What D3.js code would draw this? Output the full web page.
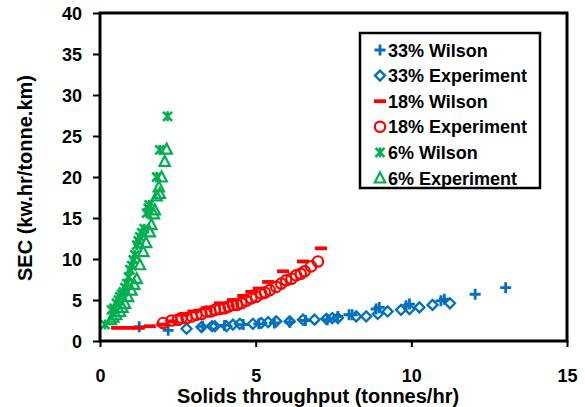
<!DOCTYPE html>
<html>
<head>
<meta charset="utf-8">
<script src="https://cdn.jsdelivr.net/npm/d3@7"></script>
<style>
  html, body { margin: 0; padding: 0; background: #fff; }
  svg { display: block; font-family: "Liberation Sans", Arial, sans-serif; }
</style>
</head>
<body>
<svg id="chart" width="585" height="407"></svg>
<script>
// Specific energy consumption vs. solids throughput, Wilson model vs. experiment
const xTicks = [0, 5, 10, 15];
const yTicks = [0, 5, 10, 15, 20, 25, 30, 35, 40];

// 33% concentration
const wilson33X = [1.26, 2.19, 3.3, 4.0, 4.6, 5.1, 5.6, 6.1, 6.6, 7.3, 7.64, 8.0, 8.1, 8.87, 8.97, 9.83, 9.94, 10.95, 11.06, 12.05, 13.03];
const wilson33Y = [1.75, 1.3, 1.8, 1.9, 2.0, 2.1, 2.2, 2.3, 2.5, 2.6, 3.0, 3.2, 3.2, 3.9, 4.1, 4.3, 4.5, 4.9, 5.1, 5.7, 6.5];
const exp33X = [2.78, 3.26, 3.6, 3.69, 4.06, 4.27, 4.49, 4.91, 5.18, 5.4, 5.66, 6.09, 6.52, 6.89, 7.27, 7.46, 7.64, 8.23, 8.55, 8.92, 9.24, 9.67, 9.94, 10.26, 10.68, 11.24];
const exp33Y = [1.5, 1.7, 1.8, 1.8, 1.8, 2.0, 2.1, 2.1, 2.2, 2.3, 2.4, 2.4, 2.6, 2.6, 2.7, 2.8, 2.8, 3.0, 3.0, 3.3, 3.6, 3.8, 3.9, 4.1, 4.4, 4.6];

// 18% concentration
const wilson18X = [0.55, 0.9, 1.25, 1.6, 2.0, 2.3, 2.67, 3.0, 3.42, 3.85, 4.27, 4.6, 4.86, 5.1, 5.4, 5.88, 6.52, 7.1];
const wilson18Y = [1.6, 1.6, 1.6, 1.8, 2.0, 2.4, 3.2, 3.6, 4.0, 4.6, 5.0, 5.5, 6.0, 6.4, 7.2, 8.5, 9.7, 11.3];
const exp18X = [2.03, 2.3, 2.5, 2.62, 2.78, 2.95, 3.1, 3.26, 3.42, 3.55, 3.69, 3.85, 4.0, 4.13, 4.27, 4.4, 4.54, 4.7, 4.86, 5.02, 5.18, 5.3, 5.45, 5.66, 5.82, 5.98, 6.15, 6.3, 6.45, 6.57, 6.78, 7.0];
const exp18Y = [2.2, 2.5, 2.6, 2.8, 2.8, 3.0, 3.2, 3.3, 3.6, 3.6, 3.8, 3.9, 4.0, 4.2, 4.4, 4.4, 4.6, 4.9, 5.2, 5.4, 5.8, 5.9, 6.2, 6.6, 7.0, 7.4, 7.6, 8.0, 8.2, 8.5, 9.1, 9.7];

// 6% concentration
const wilson6X = [0.16, 0.37, 0.45, 0.53, 0.6, 0.64, 0.7, 0.75, 0.8, 0.86, 0.92, 0.96, 1.02, 1.07, 1.12, 1.18, 1.23, 1.28, 1.34, 1.42, 1.5, 1.55, 1.58, 1.82, 1.92, 2.17];
const wilson6Y = [2.0, 3.8, 4.0, 4.6, 5.0, 5.4, 5.7, 6.0, 6.5, 7.0, 7.8, 8.7, 9.2, 9.9, 10.5, 11.7, 12.2, 12.7, 13.2, 13.7, 15.6, 16.2, 16.6, 20.0, 23.3, 27.4];
const exp6X = [0.35, 0.43, 0.52, 0.64, 0.72, 0.8, 0.9, 1.01, 1.1, 1.18, 1.28, 1.39, 1.48, 1.6, 1.65, 1.73, 1.76, 1.82, 1.89, 1.92, 1.98, 2.08, 2.14];
const exp6Y = [2.6, 2.9, 3.2, 3.6, 4.1, 4.6, 5.4, 6.2, 6.9, 7.6, 9.3, 10.9, 12.0, 13.3, 14.2, 15.5, 16.0, 17.7, 18.8, 18.0, 20.0, 21.9, 23.4];

const BLUE = "#0070C0", RED = "#FF0000", GREEN = "#00B050";

const series = [
  { name: "33% Wilson",     xs: wilson33X, ys: wilson33Y, color: BLUE,  shape: "plus" },
  { name: "33% Experiment", xs: exp33X,    ys: exp33Y,    color: BLUE,  shape: "diamond" },
  { name: "18% Wilson",     xs: wilson18X, ys: wilson18Y, color: RED,   shape: "dash" },
  { name: "18% Experiment", xs: exp18X,    ys: exp18Y,    color: RED,   shape: "circle" },
  { name: "6% Wilson",      xs: wilson6X,  ys: wilson6Y,  color: GREEN, shape: "star" },
  { name: "6% Experiment",  xs: exp6X,     ys: exp6Y,     color: GREEN, shape: "triangle" }
];

const svg = d3.select("#chart");
const plot = { left: 100, right: 567, top: 13, bottom: 341 };

const x = d3.scaleLinear().domain([0, 15]).range([plot.left, plot.right]);
const y = d3.scaleLinear().domain([0, 40]).range([plot.bottom, plot.top]);

// Marker drawing
function drawMarker(g, shape, color) {
  switch (shape) {
    case "plus":
      g.append("path").attr("d", "M-5.5,0H5.5M0,-5.5V5.5")
        .attr("stroke", color).attr("stroke-width", 2.8).attr("fill", "none");
      break;
    case "diamond":
      g.append("path").attr("d", "M0,-5L5,0L0,5L-5,0Z")
        .attr("stroke", color).attr("stroke-width", 2.3).attr("fill", "none");
      break;
    case "dash":
      g.append("path").attr("d", "M-6,0H6")
        .attr("stroke", color).attr("stroke-width", 3.8).attr("fill", "none");
      break;
    case "circle":
      g.append("circle").attr("r", 5.2)
        .attr("stroke", color).attr("stroke-width", 2.2).attr("fill", "none");
      break;
    case "star":
      g.append("path").attr("d", "M-4.5,-4.5L4.5,4.5M-4.5,4.5L4.5,-4.5M0,-5V5")
        .attr("stroke", color).attr("stroke-width", 2.6).attr("fill", "none");
      break;
    case "triangle":
      g.append("path").attr("d", "M0,-5.5L5.2,4.5L-5.2,4.5Z")
        .attr("stroke", color).attr("stroke-width", 2.2).attr("fill", "none")
        .attr("stroke-linejoin", "miter");
      break;
  }
}

// Data points
const marks = svg.append("g");
series.forEach(s => {
  const pts = s.xs.map((v, i) => [v, s.ys[i]]);
  marks.append("g").selectAll("g")
    .data(pts)
    .join("g")
    .attr("transform", d => `translate(${x(d[0])},${y(d[1])})`)
    .each(function () { drawMarker(d3.select(this), s.shape, s.color); });
});

// Axes
const xAxis = d3.axisBottom(x).tickValues(xTicks).tickSize(6).tickPadding(22).tickFormat(d3.format("d"));
const yAxis = d3.axisLeft(y).tickValues(yTicks).tickSize(7).tickPadding(11).tickFormat(d3.format("d"));

const gx = svg.append("g").attr("transform", `translate(0,${plot.bottom})`).call(xAxis);
const gy = svg.append("g").attr("transform", `translate(${plot.left},0)`).call(yAxis);

[gx, gy].forEach(g => {
  g.select(".domain").remove();
  g.selectAll(".tick line").attr("stroke", "#000").attr("stroke-width", 2);
  g.selectAll(".tick text")
    .attr("fill", "#000")
    .style("font-size", "18px")
    .style("font-weight", "bold")
    .style("font-family", "'Liberation Sans', Arial, sans-serif");
});
gy.selectAll(".tick text").attr("dy", "0.36em");
gx.selectAll(".tick text").attr("dy", "0.71em");

// Plot frame
svg.append("rect")
  .attr("x", plot.left).attr("y", plot.top)
  .attr("width", plot.right - plot.left).attr("height", plot.bottom - plot.top)
  .attr("fill", "none").attr("stroke", "#000").attr("stroke-width", 3);

// Axis titles
svg.append("text")
  .attr("x", 318).attr("y", 403)
  .attr("text-anchor", "middle")
  .style("font-size", "20px").style("font-weight", "bold")
  .text("Solids throughput (tonnes/hr)");

svg.append("text")
  .attr("transform", "translate(32,178) rotate(-90)")
  .attr("text-anchor", "middle")
  .style("font-size", "20px").style("font-weight", "bold")
  .text("SEC (kw.hr/tonne.km)");

// Legend
const legend = svg.append("g");
legend.append("rect")
  .attr("x", 360).attr("y", 33).attr("width", 180).attr("height", 155)
  .attr("fill", "#fff").attr("stroke", "#000").attr("stroke-width", 2.5);

const rowY = d3.scalePoint().domain(series.map(s => s.name)).range([50, 178]);
series.forEach(s => {
  const row = legend.append("g").attr("transform", `translate(0,${rowY(s.name)})`);
  drawMarker(row.append("g").attr("transform", "translate(380,0)"), s.shape, s.color);
  row.append("text")
    .attr("x", 388).attr("y", 6.5)
    .style("font-size", "18px").style("font-weight", "bold")
    .text(s.name);
});
</script>
</body>
</html>
